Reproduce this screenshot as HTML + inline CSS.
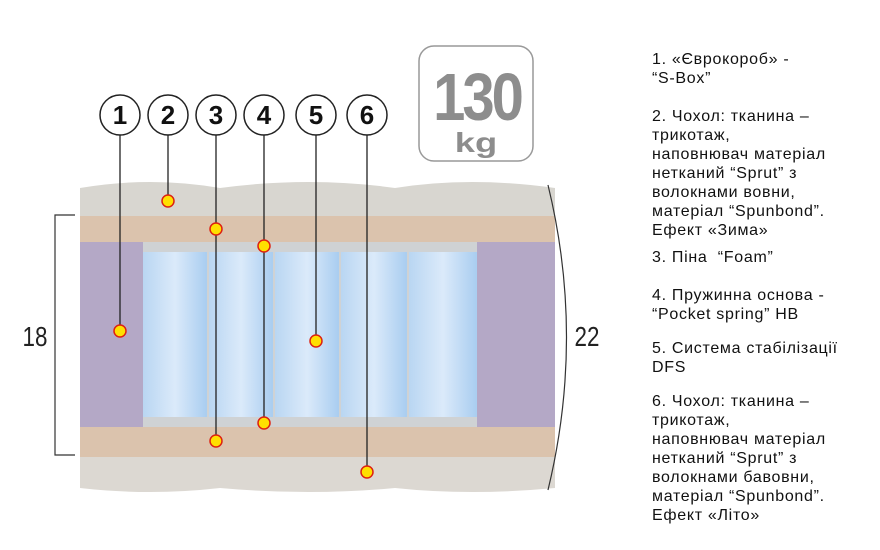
<!DOCTYPE html>
<html><head><meta charset="utf-8"><style>
body{margin:0;width:880px;height:550px;background:#fff;overflow:hidden;position:relative;font-family:"Liberation Sans",sans-serif}
.t{position:absolute;left:652px;font-size:16px;letter-spacing:0.7px;line-height:19px;color:#111}
</style></head><body>
<svg width="880" height="550" style="position:absolute;left:0;top:0">
<defs>
<linearGradient id="sp" x1="0" x2="1"><stop offset="0" stop-color="#b9d6f2"/><stop offset="0.5" stop-color="#dbeafa"/><stop offset="1" stop-color="#a9cdf0"/></linearGradient>
</defs>
<path d="M80 188 Q150 176 220 188 Q310 176 395 188 Q470 176 555 188 L555 216 L80 216 Z" fill="#d8d6d0"/>
<rect x="80" y="216" width="475" height="26" fill="#dbc3ad"/>
<rect x="80" y="242" width="63" height="185" fill="#b4a8c6"/>
<rect x="477" y="242" width="78" height="185" fill="#b4a8c6"/>
<rect x="143" y="242" width="334" height="185" fill="#cfd2d4"/>
<g fill="url(#sp)">
<rect x="143" y="252" width="64" height="165"/>
<rect x="209" y="252" width="64" height="165"/>
<rect x="275" y="252" width="64" height="165"/>
<rect x="341" y="252" width="66" height="165"/>
<rect x="409" y="252" width="68" height="165"/>
</g>
<rect x="80" y="427" width="475" height="30" fill="#dbc3ad"/>
<path d="M80 457 L555 457 L555 488 Q470 496 395 488 Q310 496 220 488 Q150 496 80 488 Z" fill="#dcd8d2"/>
<path d="M75 215 H55 V455 H75" stroke="#333" fill="none" stroke-width="1.2"/>
<path d="M548 185 Q585 337 548 490" stroke="#333" fill="none" stroke-width="1.2"/>
<text transform="translate(35,346) scale(0.8,1)" font-size="28" text-anchor="middle" fill="#222">18</text>
<text transform="translate(587,346) scale(0.8,1)" font-size="28" text-anchor="middle" fill="#222">22</text>
<rect x="419" y="46" width="114" height="115" rx="15" fill="#fff" stroke="#999" stroke-width="1.5"/>
<text transform="translate(477,120) scale(1,1.15)" font-size="58" font-weight="bold" text-anchor="middle" fill="#8d8d8d" letter-spacing="-3">130</text>
<text transform="translate(476,152) scale(1.3,1)" font-size="28" font-weight="bold" text-anchor="middle" fill="#8d8d8d">kg</text>
<g stroke="#222" stroke-width="1.3">
<line x1="120" y1="135" x2="120" y2="331"/>
<line x1="168" y1="135" x2="168" y2="201"/>
<line x1="216" y1="135" x2="216" y2="441"/>
<line x1="264" y1="135" x2="264" y2="423"/>
<line x1="316" y1="135" x2="316" y2="341"/>
<line x1="367" y1="135" x2="367" y2="472"/>
</g>
<g fill="#fff" stroke="#222" stroke-width="1.5">
<circle cx="120" cy="115" r="20"/><circle cx="168" cy="115" r="20"/><circle cx="216" cy="115" r="20"/>
<circle cx="264" cy="115" r="20"/><circle cx="316" cy="115" r="20"/><circle cx="367" cy="115" r="20"/>
</g>
<g font-size="26" font-weight="bold" text-anchor="middle" fill="#111">
<text x="120" y="124">1</text><text x="168" y="124">2</text><text x="216" y="124">3</text>
<text x="264" y="124">4</text><text x="316" y="124">5</text><text x="367" y="124">6</text>
</g>
<g fill="#ffe000" stroke="#d21" stroke-width="1.5">
<circle cx="168" cy="201" r="6"/><circle cx="216" cy="229" r="6"/><circle cx="264" cy="246" r="6"/>
<circle cx="120" cy="331" r="6"/><circle cx="316" cy="341" r="6"/><circle cx="264" cy="423" r="6"/>
<circle cx="216" cy="441" r="6"/><circle cx="367" cy="472" r="6"/>
</g>
</svg>
<div class="t" style="top:50px">1. «Єврокороб» -<br>“S-Box”</div>
<div class="t" style="top:107px">2. Чохол: тканина –<br>трикотаж,<br>наповнювач матеріал<br>нетканий “Sprut” з<br>волокнами вовни,<br>матеріал “Spunbond”.<br>Ефект «Зима»</div>
<div class="t" style="top:248px">3. Піна &nbsp;“Foam”</div>
<div class="t" style="top:286px">4. Пружинна основа -<br>“Pocket spring” HB</div>
<div class="t" style="top:339px">5. Система стабілізації<br>DFS</div>
<div class="t" style="top:392px">6. Чохол: тканина –<br>трикотаж,<br>наповнювач матеріал<br>нетканий “Sprut” з<br>волокнами бавовни,<br>матеріал “Spunbond”.<br>Ефект «Літо»</div>
</body></html>
